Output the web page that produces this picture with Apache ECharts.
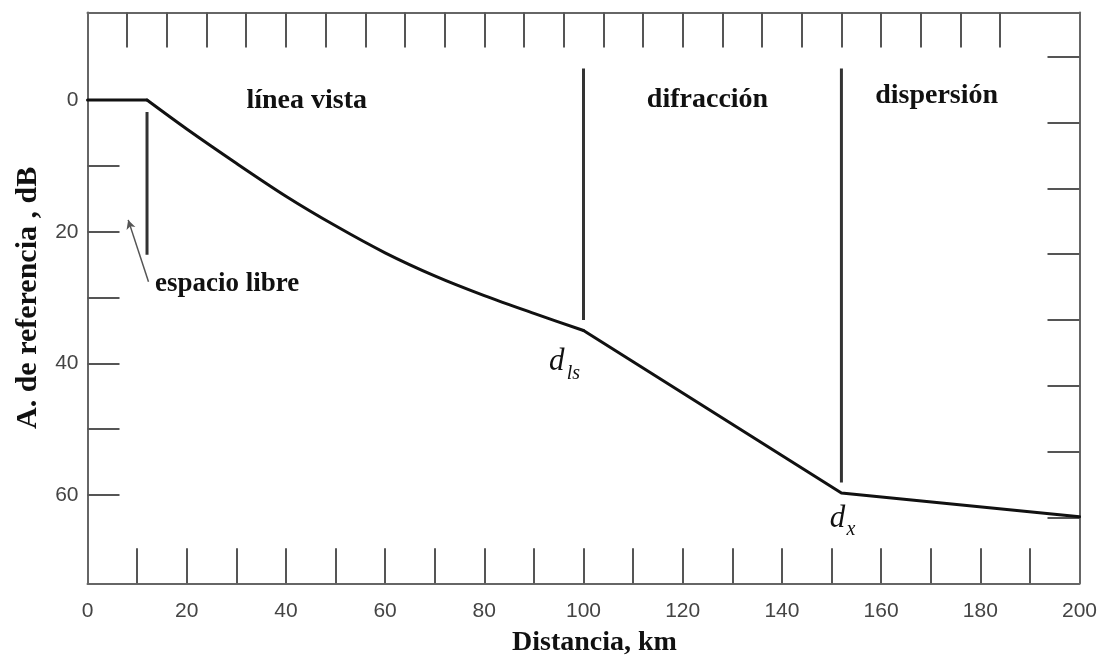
<!DOCTYPE html>
<html>
<head>
<meta charset="utf-8">
<script src="https://cdn.jsdelivr.net/npm/echarts@6/dist/echarts.min.js"></script>
<style>
  html, body { margin: 0; padding: 0; background: #fff; }
  #chart { width: 1100px; height: 656px; }
</style>
</head>
<body>
<div id="chart"></div>
<script>
// Attenuation relative to free space versus path distance
const flatX = [0, 12];
const flatY = [0, 0];
const losX = [12, 20, 30, 40, 50, 60, 70, 80, 90, 100];
const losY = [0, 4.4, 9.6, 14.6, 19.1, 23.2, 26.7, 29.7, 32.4, 35.0];
const farX = [100, 152, 200];
const farY = [35.0, 59.7, 63.3];

// Region boundaries (vertical bars): distance, top, bottom in dB
const barX = [12, 100, 152];
const barTop = [1.8, -4.8, -4.8];
const barBottom = [23.5, 33.4, 58.1];

// Pointer to the free-space bar
const arrowFrom = [12.3, 27.6];
const arrowTo = [8.2, 18.2];

// Tick positions and labels
const xLabels = [0, 20, 40, 60, 80, 100, 120, 140, 160, 180, 200];
const xTicksBottom = [10, 20, 30, 40, 50, 60, 70, 80, 90, 100, 110, 120, 130, 140, 150, 160, 170, 180, 190];
const xTicksTop = [8, 16, 24, 32, 40, 48, 56, 64, 72, 80, 88, 96, 104, 112, 120, 128, 136, 144, 152, 160, 168, 176, 184];
const yLabels = [0, 20, 40, 60];
const yTicksLeft = [0, 10, 20, 30, 40, 50, 60];
const yTicksRight = [-6.6, 3.4, 13.4, 23.4, 33.4, 43.4, 53.4, 63.4];

// Region names and their anchor points [distance, dB]
const regionNames = ['línea vista', 'difracción', 'dispersión'];
const regionPos = [[44.2, 0.1], [125.0, -0.1], [171.2, -0.6]];
const noteText = 'espacio libre';
const notePos = [13.6, 27.9];
const symbolBase = ['d', 'd'];
const symbolSub = ['ls', 'x'];
const symbolPos = [[94.6, 39.7], [151.2, 63.6]];
const subPos = [[96.6, 41.6], [153.0, 65.2]];

const chart = echarts.init(document.getElementById('chart'));

const frame = { show: true, onZero: false, lineStyle: { color: '#666', width: 2 } };
const tickStyle = { color: '#555', width: 2 };

const zip = (xs, ys) => xs.map((x, i) => [x, ys[i]]);
const curveStyle = { color: '#111', width: 3, cap: 'round', join: 'round' };

const barSeries = barX.map((x, i) => ({
  type: 'line',
  data: [[x, barTop[i]], [x, barBottom[i]]],
  symbol: 'none',
  silent: true,
  lineStyle: { color: '#333', width: 3 }
}));

chart.setOption({
  animation: false,
  backgroundColor: '#fff',
  grid: { left: 87.5, right: 20.5, top: 12.5, bottom: 72.7, containLabel: false, outerBoundsMode: 'none' },
  xAxis: [
    {
      type: 'value', position: 'bottom', min: 0, max: 200,
      axisLine: frame,
      axisTick: { show: true, inside: true, length: 35, lineStyle: tickStyle, customValues: xTicksBottom },
      axisLabel: { customValues: xLabels, color: '#444', fontFamily: 'Liberation Sans', fontSize: 21, margin: 17 },
      splitLine: { show: false },
      name: 'Distancia, km', nameLocation: 'middle', nameGap: 45,
      nameTextStyle: { fontFamily: 'Liberation Serif', fontWeight: 'bold', fontSize: 28, color: '#111', padding: [0, 0, 0, 22] }
    },
    {
      type: 'value', position: 'top', min: 0, max: 200,
      axisLine: frame,
      axisTick: { show: true, inside: true, length: 35, lineStyle: tickStyle, customValues: xTicksTop },
      axisLabel: { show: false },
      splitLine: { show: false }
    }
  ],
  yAxis: [
    {
      type: 'value', position: 'left', inverse: true, min: -13.3, max: 73.4,
      axisLine: frame,
      axisTick: { show: true, inside: true, length: 32, lineStyle: tickStyle, customValues: yTicksLeft },
      axisLabel: { customValues: yLabels, color: '#444', fontFamily: 'Liberation Sans', fontSize: 21, margin: 9 },
      splitLine: { show: false },
      name: 'A. de referencia , dB', nameLocation: 'middle', nameGap: 44, nameRotate: 90,
      nameTextStyle: { fontFamily: 'Liberation Serif', fontWeight: 'bold', fontSize: 30, color: '#111' }
    },
    {
      type: 'value', position: 'right', inverse: true, min: -13.3, max: 73.4,
      axisLine: frame,
      axisTick: { show: true, inside: true, length: 32, lineStyle: tickStyle, customValues: yTicksRight },
      axisLabel: { show: false },
      splitLine: { show: false }
    }
  ],
  series: [
    { type: 'line', data: zip(flatX, flatY), symbol: 'none', silent: true, lineStyle: curveStyle },
    { type: 'line', data: zip(losX, losY), symbol: 'none', smooth: 0.3, silent: true, lineStyle: curveStyle },
    { type: 'line', data: zip(farX, farY), symbol: 'none', silent: true, lineStyle: curveStyle },
    ...barSeries,
    {
      type: 'line', data: [], silent: true,
      markLine: {
        silent: true,
        symbol: ['none', 'arrow'],
        symbolSize: [7, 9],
        label: { show: false },
        lineStyle: { color: '#555', width: 1.5, type: 'solid' },
        data: [[{ coord: arrowFrom }, { coord: arrowTo }]]
      }
    }
  ]
});

// Text annotations placed from data coordinates
const px = p => chart.convertToPixel({ xAxisIndex: 0, yAxisIndex: 0 }, p);
const serifBold = size => `bold ${size}px "Liberation Serif"`;
const graphics = [];
regionNames.forEach((t, i) => {
  const [x, y] = px(regionPos[i]);
  graphics.push({ type: 'text', x, y, silent: true,
    style: { text: t, font: serifBold(28), fill: '#111', align: 'center', verticalAlign: 'middle' } });
});
{
  const [x, y] = px(notePos);
  graphics.push({ type: 'text', x, y, silent: true,
    style: { text: noteText, font: serifBold(27), fill: '#111', align: 'left', verticalAlign: 'middle' } });
}
symbolBase.forEach((b, i) => {
  const [x, y] = px(symbolPos[i]);
  graphics.push({ type: 'text', x, y, silent: true,
    style: { text: b, font: 'italic 31px "Liberation Serif"', fill: '#111', align: 'center', verticalAlign: 'middle' } });
  const [sx, sy] = px(subPos[i]);
  graphics.push({ type: 'text', x: sx, y: sy, silent: true,
    style: { text: symbolSub[i], font: 'italic 20px "Liberation Serif"', fill: '#111', align: 'left', verticalAlign: 'middle' } });
});
chart.setOption({ graphic: graphics });
</script>
</body>
</html>
